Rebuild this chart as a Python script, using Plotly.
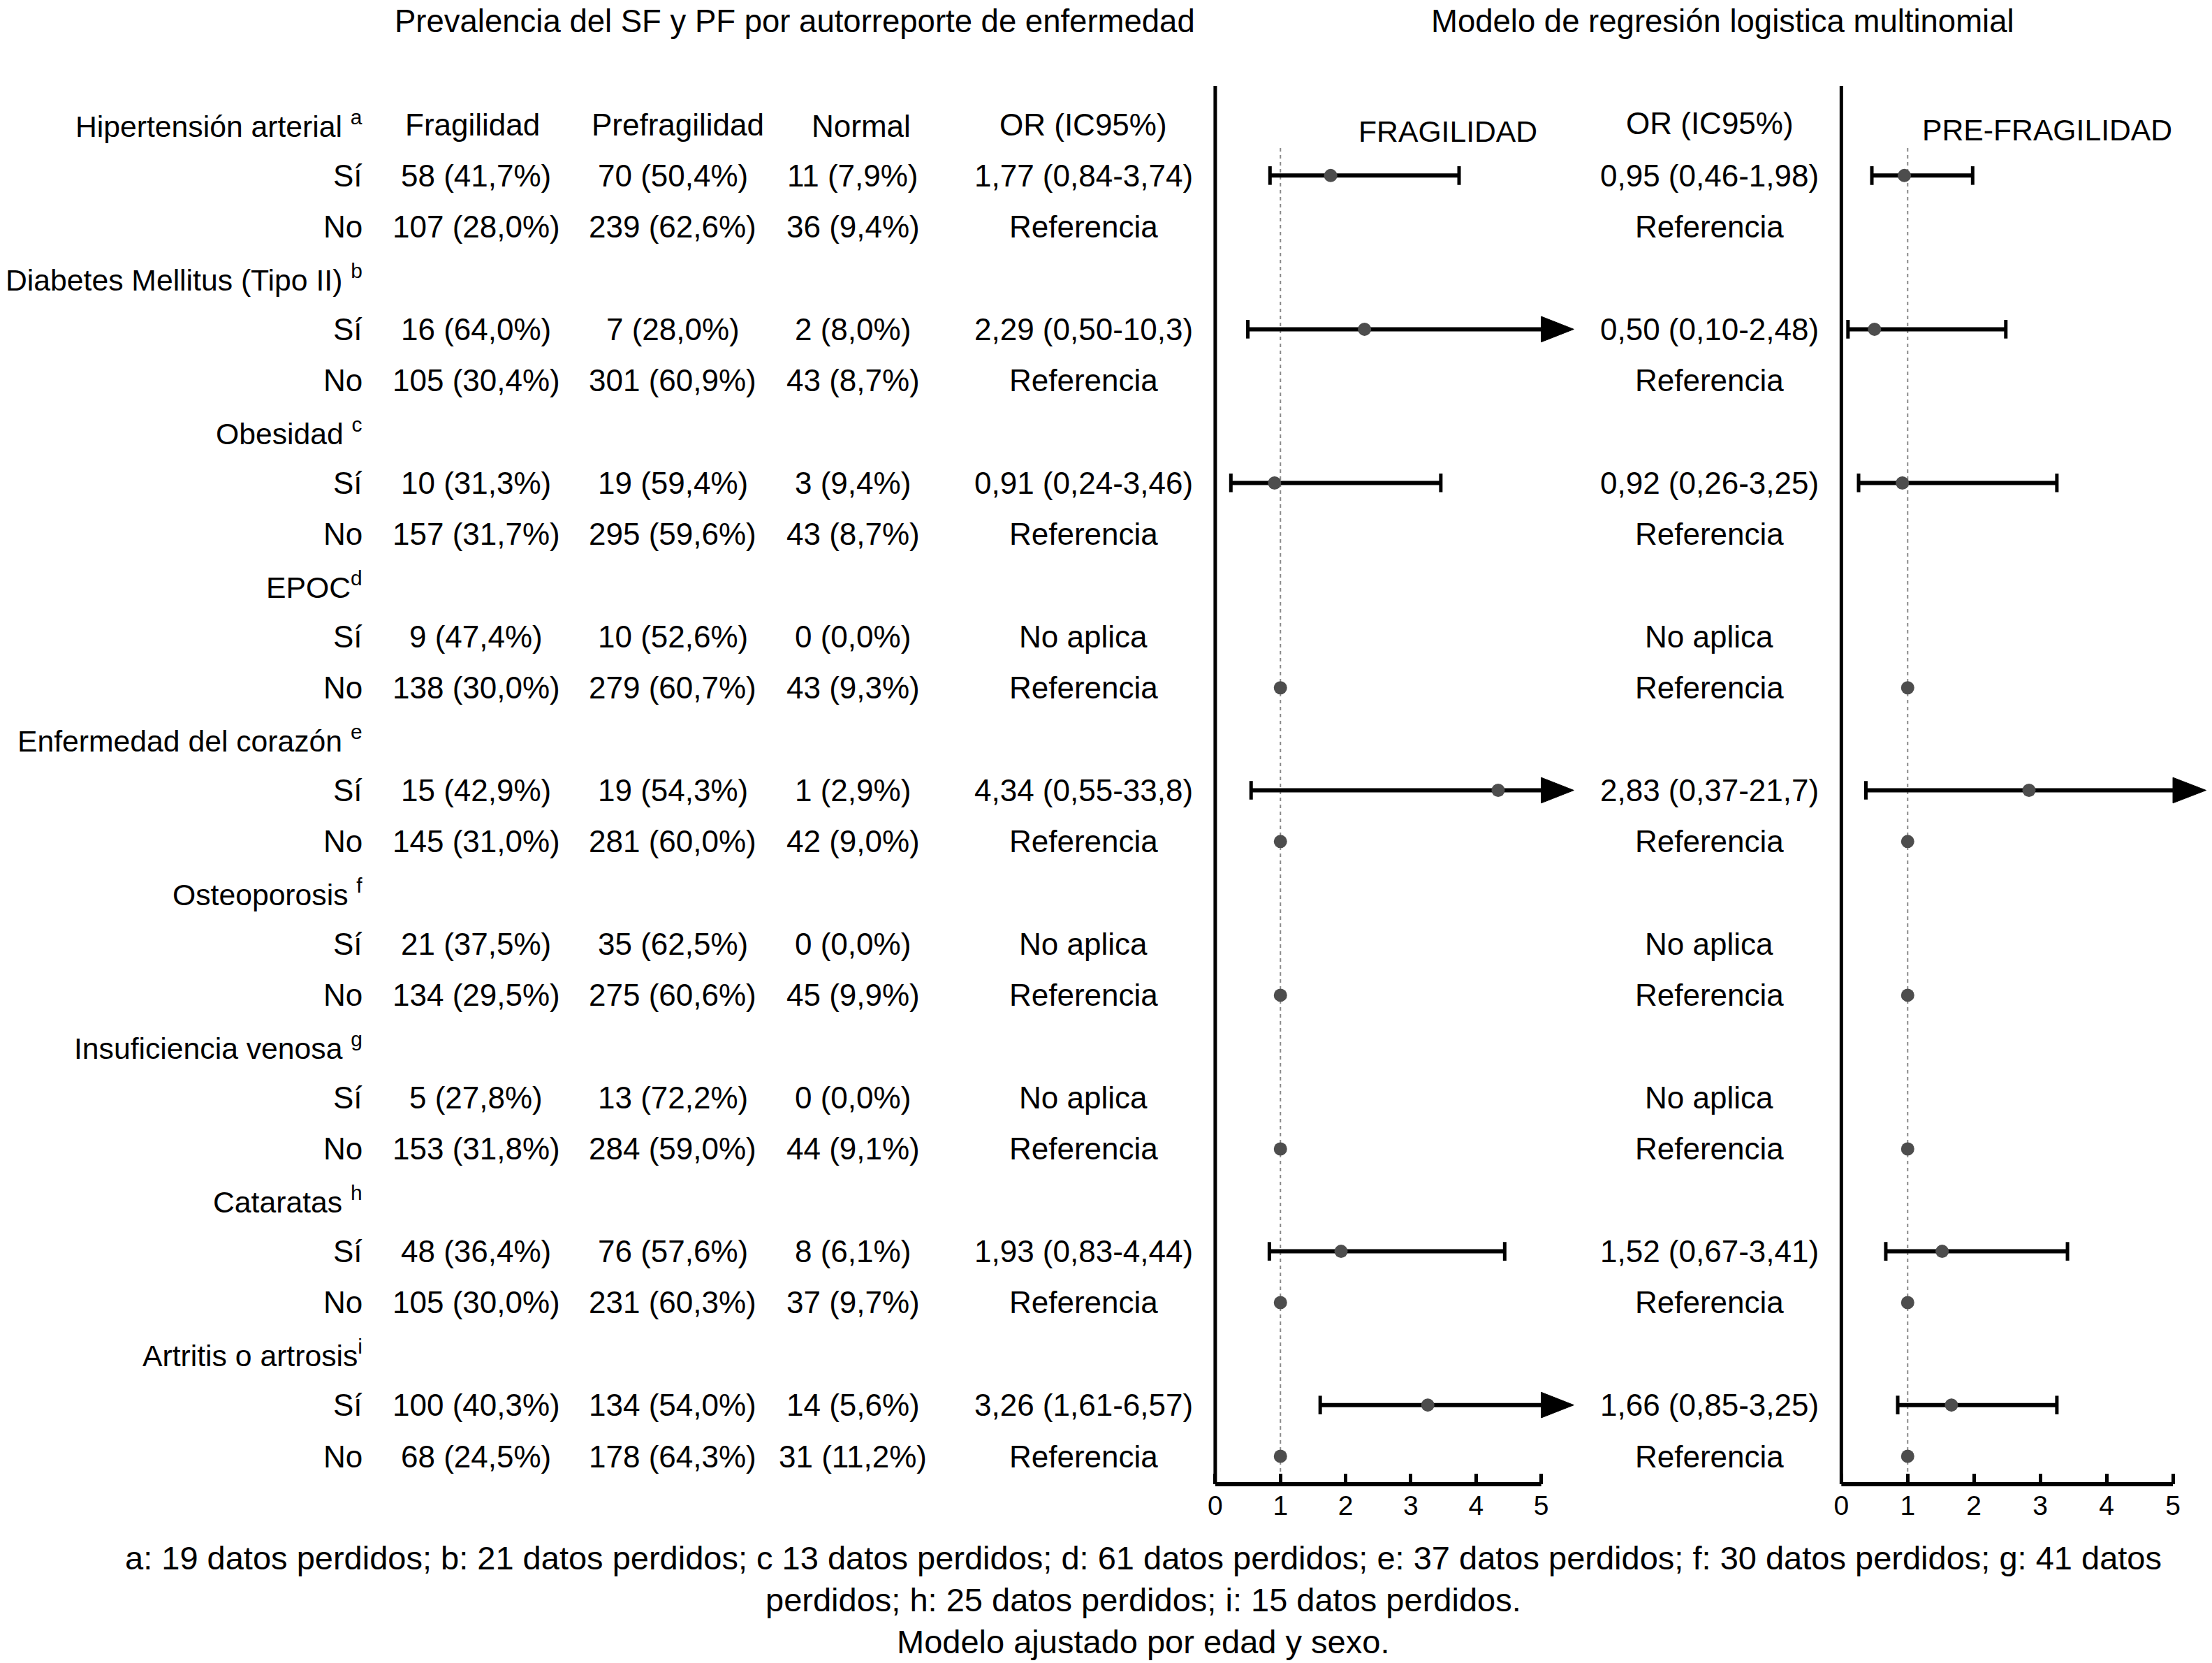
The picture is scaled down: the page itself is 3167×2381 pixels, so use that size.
import plotly.graph_objects as go

W, H = 3167, 2381

# ---------------- data ----------------
diseases = ["Hipertensión arterial", "Diabetes Mellitus (Tipo II)", "Obesidad", "EPOC",
            "Enfermedad del corazón", "Osteoporosis", "Insuficiencia venosa", "Cataratas",
            "Artritis o artrosis"]
footmarks = ["a", "b", "c", "d", "e", "f", "g", "h", "i"]
mark_space = [True, True, True, False, True, True, True, True, False]
answer_labels = ["Sí", "No"]
col_headers = ["Fragilidad", "Prefragilidad", "Normal", "OR (IC95%)"]

frag_si_n = [58, 16, 10, 9, 15, 21, 5, 48, 100]
frag_si_pct = [41.7, 64.0, 31.3, 47.4, 42.9, 37.5, 27.8, 36.4, 40.3]
prefrag_si_n = [70, 7, 19, 10, 19, 35, 13, 76, 134]
prefrag_si_pct = [50.4, 28.0, 59.4, 52.6, 54.3, 62.5, 72.2, 57.6, 54.0]
normal_si_n = [11, 2, 3, 0, 1, 0, 0, 8, 14]
normal_si_pct = [7.9, 8.0, 9.4, 0.0, 2.9, 0.0, 0.0, 6.1, 5.6]

frag_no_n = [107, 105, 157, 138, 145, 134, 153, 105, 68]
frag_no_pct = [28.0, 30.4, 31.7, 30.0, 31.0, 29.5, 31.8, 30.0, 24.5]
prefrag_no_n = [239, 301, 295, 279, 281, 275, 284, 231, 178]
prefrag_no_pct = [62.6, 60.9, 59.6, 60.7, 60.0, 60.6, 59.0, 60.3, 64.3]
normal_no_n = [36, 43, 43, 43, 42, 45, 44, 37, 31]
normal_no_pct = [9.4, 8.7, 8.7, 9.3, 9.0, 9.9, 9.1, 9.7, 11.2]

or_frag = [1.77, 2.29, 0.91, None, 4.34, None, None, 1.93, 3.26]
lo_frag = [0.84, 0.50, 0.24, None, 0.55, None, None, 0.83, 1.61]
hi_frag = [3.74, 10.3, 3.46, None, 33.8, None, None, 4.44, 6.57]

or_pre = [0.95, 0.50, 0.92, None, 2.83, None, None, 1.52, 1.66]
lo_pre = [0.46, 0.10, 0.26, None, 0.37, None, None, 0.67, 0.85]
hi_pre = [1.98, 2.48, 3.25, None, 21.7, None, None, 3.41, 3.25]

ref_point_shown = [False, False, False, True, True, True, True, True, True]
ref_or = 1.0
ref_text = "Referencia"
na_text = "No aplica"

axis_ticks = [0, 1, 2, 3, 4, 5]
axis_max = 5

footnote_lines = [
    "a: 19 datos perdidos; b: 21 datos perdidos; c 13 datos perdidos; d: 61 datos perdidos; e: 37 datos perdidos; f: 30 datos perdidos; g: 41 datos",
    "perdidos; h: 25 datos perdidos; i: 15 datos perdidos.",
    "Modelo ajustado por edad y sexo.",
]
title_left = "Prevalencia del SF y PF por autorreporte de enfermedad"
title_right = "Modelo de regresión logistica multinomial"

# ---------------- layout constants (pixels) ----------------
FONT = "Arial, Liberation Sans, sans-serif"
FS = 44
FS_LABEL = 42.7
FS_TITLE = 45.5
FS_FOOT = 47
FS_TICK = 39
ROW0_PX, ROWN_PX, NROWS = 178, 2085, 27
ROW_SP = (ROWN_PX - ROW0_PX) / (NROWS - 1)
BASE_PX = 2125
AX_TOP_PX = 123
DOT_TOP_PX = 212

def row_of(px):
    return (px - ROW0_PX) / ROW_SP

def px_x(x):
    return x / W

def px_y(y):
    return 1 - y / H

y_range = [row_of(H), row_of(0)]
base_row = row_of(BASE_PX)
top_row = row_of(AX_TOP_PX)
dot_top_row = row_of(DOT_TOP_PX)

panels = [
    dict(xa="x2", name="xaxis2", zero_px=1739, five_px=2206, rng=[-0.1, 5.7],
         ors=or_frag, los=lo_frag, his=hi_frag),
    dict(xa="x3", name="xaxis3", zero_px=2636, five_px=3111, rng=[-0.1, 5.55],
         ors=or_pre, los=lo_pre, his=hi_pre),
]

LABEL_RIGHT = 519
COLX = [680, 962, 1220, 1550]
HEADX = [675, 969, 1232, 1550]
OR2_X = 2447

def fmt_pct(n, p):
    return f"{n} ({p:.1f}%)".replace(".", ",")

def fmt_num(v):
    return (f"{v:.2f}" if v < 10 else f"{v:.1f}").replace(".", ",")

def fmt_or(o, l, h):
    return f"{fmt_num(o)} ({fmt_num(l)}-{fmt_num(h)})"

fig = go.Figure()
annotations = []
shapes = []

def txt(x, y, s, xanchor="center", yref="y", size=FS):
    annotations.append(dict(x=x, y=y, xref="paper", yref=yref, text=s, showarrow=False,
                            xanchor=xanchor, yanchor="middle",
                            font=dict(family=FONT, size=size, color="black")))

# titles
txt(px_x(1137), px_y(30), title_left, yref="paper", size=FS_TITLE)
txt(px_x(2466), px_y(30), title_right, yref="paper", size=FS_TITLE)

# table
for k, d in enumerate(diseases):
    hr = 3 * k
    lab = d + (" " if mark_space[k] else "") + f"<sup>{footmarks[k]}</sup>"
    txt(px_x(LABEL_RIGHT), hr, lab, xanchor="right", size=FS_LABEL)
    si, no = hr + 1, hr + 2
    txt(px_x(LABEL_RIGHT), si, answer_labels[0], xanchor="right")
    txt(px_x(LABEL_RIGHT), no, answer_labels[1], xanchor="right")
    txt(px_x(COLX[0]), si, fmt_pct(frag_si_n[k], frag_si_pct[k]))
    txt(px_x(COLX[1]), si, fmt_pct(prefrag_si_n[k], prefrag_si_pct[k]))
    txt(px_x(COLX[2]), si, fmt_pct(normal_si_n[k], normal_si_pct[k]))
    txt(px_x(COLX[0]), no, fmt_pct(frag_no_n[k], frag_no_pct[k]))
    txt(px_x(COLX[1]), no, fmt_pct(prefrag_no_n[k], prefrag_no_pct[k]))
    txt(px_x(COLX[2]), no, fmt_pct(normal_no_n[k], normal_no_pct[k]))
    if or_frag[k] is not None:
        txt(px_x(COLX[3]), si, fmt_or(or_frag[k], lo_frag[k], hi_frag[k]))
    else:
        txt(px_x(COLX[3]), si, na_text)
    txt(px_x(COLX[3]), no, ref_text)
    if or_pre[k] is not None:
        txt(px_x(OR2_X), si, fmt_or(or_pre[k], lo_pre[k], hi_pre[k]))
    else:
        txt(px_x(OR2_X), si, na_text)
    txt(px_x(OR2_X), no, ref_text)

for i, h in enumerate(col_headers):
    txt(px_x(HEADX[i]), 0.03 if i == 2 else 0, h)
txt(px_x(2448), -0.02, col_headers[3])
txt(px_x(2072), 0.14, "FRAGILIDAD", size=FS_LABEL)
txt(px_x(2931), 0.11, "PRE-FRAGILIDAD", size=FS_LABEL)

# footnotes
txt(px_x(1636), px_y(2230), footnote_lines[0], yref="paper", size=FS_FOOT)
txt(px_x(1636), px_y(2290), footnote_lines[1], yref="paper", size=FS_FOOT)
txt(px_x(1636), px_y(2350), footnote_lines[2], yref="paper", size=FS_FOOT)

# forest panels
ARROW_LEN = 0.5
ARROW_HALF = 0.25
layout_axes = {}
for p in panels:
    xa = p["xa"]
    ppu = (p["five_px"] - p["zero_px"]) / axis_max
    dl = p["zero_px"] + p["rng"][0] * ppu
    dr = p["zero_px"] + p["rng"][1] * ppu
    layout_axes[p["name"]] = dict(
        domain=[px_x(dl), min(1.0, px_x(dr))], range=p["rng"], anchor="free",
        position=px_y(BASE_PX), showline=False, showgrid=False, zeroline=False,
        tickvals=axis_ticks, ticks="inside", ticklen=15, tickwidth=5, tickcolor="black",
        ticklabelstandoff=4,
        tickfont=dict(family=FONT, size=FS_TICK, color="black"), fixedrange=True)

    # axis lines
    shapes.append(dict(type="line", xref=xa, yref="y", x0=0, x1=axis_max, y0=base_row, y1=base_row,
                       line=dict(color="black", width=6)))
    shapes.append(dict(type="line", xref=xa, yref="y", x0=0, x1=0, y0=top_row, y1=base_row,
                       line=dict(color="black", width=5)))
    # reference line
    shapes.append(dict(type="line", xref=xa, yref="y", x0=ref_or, x1=ref_or, y0=dot_top_row, y1=base_row,
                       line=dict(color="#8a8a8a", width=2, dash="5px,5px"), layer="below"))

    pts_x, pts_y = [], []
    for k in range(len(diseases)):
        o = p["ors"][k]
        si, no = 3 * k + 1, 3 * k + 2
        if o is not None:
            lo, hi = p["los"][k], p["his"][k]
            end = min(hi, axis_max)
            fig.add_trace(go.Scatter(x=[lo, end], y=[si, si], xaxis=xa, yaxis="y", mode="lines",
                                     line=dict(color="black", width=6), hoverinfo="skip"))
            cap_x = [lo] + ([hi] if hi <= axis_max else [])
            fig.add_trace(go.Scatter(x=cap_x, y=[si] * len(cap_x), xaxis=xa, yaxis="y", mode="markers",
                                     marker=dict(symbol="line-ns", size=19,
                                                 line=dict(color="black", width=5)),
                                     hoverinfo="skip"))
            if hi > axis_max:
                fig.add_trace(go.Scatter(
                    x=[axis_max, axis_max + ARROW_LEN, axis_max, axis_max],
                    y=[si - ARROW_HALF, si, si + ARROW_HALF, si - ARROW_HALF],
                    xaxis=xa, yaxis="y", mode="lines", fill="toself", fillcolor="black",
                    line=dict(color="black", width=1), hoverinfo="skip"))
            pts_x.append(o)
            pts_y.append(si)
        if ref_point_shown[k]:
            pts_x.append(ref_or)
            pts_y.append(no)
    fig.add_trace(go.Scatter(x=pts_x, y=pts_y, xaxis=xa, yaxis="y", mode="markers",
                             marker=dict(color="#4d4d4d", size=19), hoverinfo="skip"))

fig.update_layout(
    width=W, height=H, margin=dict(l=0, r=0, t=0, b=0),
    paper_bgcolor="white", plot_bgcolor="rgba(0,0,0,0)", showlegend=False,
    yaxis=dict(domain=[0, 1], range=y_range, visible=False, anchor="x2", fixedrange=True),
    annotations=annotations, shapes=shapes,
    font=dict(family=FONT, size=FS, color="black"),
    **layout_axes,
)

fig.write_html("out.html", config={"displayModeBar": False},
               post_script="document.body.style.margin='0';")
